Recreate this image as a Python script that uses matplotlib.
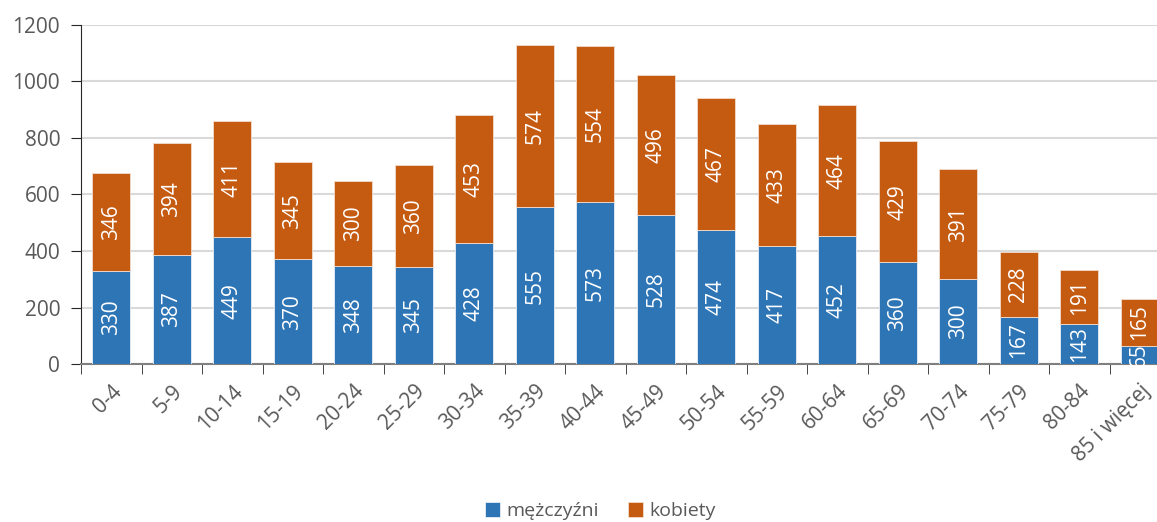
import matplotlib.pyplot as plt
import numpy as np

plt.rcParams['font.family'] = ['Open Sans', 'DejaVu Sans']

groups = ['0-4', '5-9', '10-14', '15-19', '20-24', '25-29', '30-34', '35-39', '40-44',
          '45-49', '50-54', '55-59', '60-64', '65-69', '70-74', '75-79', '80-84', '85 i więcej']
men = [330, 387, 449, 370, 348, 345, 428, 555, 573, 528, 474, 417, 452, 360, 300, 167, 143, 65]
women = [346, 394, 411, 345, 300, 360, 453, 574, 554, 496, 467, 433, 464, 429, 391, 228, 191, 165]

blue = '#2E75B6'
orange = '#C55A11'

fig = plt.figure(figsize=(11.57, 5.22), dpi=100)
ax = fig.add_axes([81 / 1157, 158 / 522, 1089 / 1157, 339 / 522])

x = np.arange(len(groups))
w = 0.63
b1 = ax.bar(x, men, w, color=blue, edgecolor='#e8eef6', linewidth=0.6, label='mężczyźni', zorder=3)
b2 = ax.bar(x, women, w, bottom=men, color=orange, edgecolor='#f2dccd', linewidth=0.6,
            label='kobiety', zorder=3)

for i in range(len(groups)):
    ax.text(x[i], men[i] / 2, str(men[i]), rotation=90, ha='center', va='center',
            color='white', fontsize=15, zorder=4)
    ax.text(x[i], men[i] + women[i] / 2, str(women[i]), rotation=90, ha='center',
            va='center', color='white', fontsize=15, zorder=4)

ax.set_xlim(-0.5, len(groups) - 0.5)
ax.set_ylim(0, 1200)
ax.set_yticks(range(0, 1201, 200))
ax.grid(axis='y', color='#d9d9d9', linewidth=1.5, zorder=0)

ax.set_xticks(x)
ax.set_xticklabels(groups, rotation=45, ha='right', rotation_mode='anchor')
ax.set_xticks(np.arange(-0.5, len(groups), 1), minor=True)
ax.tick_params(axis='x', which='major', length=0, labelsize=15, labelcolor='#595959', pad=12)
ax.tick_params(axis='x', which='minor', length=7, color='#262626', direction='out')
ax.tick_params(axis='y', length=7, color='#262626', labelsize=15, labelcolor='#595959', pad=8)

for s in ['top', 'right']:
    ax.spines[s].set_visible(False)
ax.spines['left'].set_color('#262626')
ax.spines['bottom'].set_color('#7f7f7f')
ax.spines['bottom'].set_linewidth(1.5)

fig.legend(handles=[b1, b2], loc='center', bbox_to_anchor=(600 / 1157, 1 - 511 / 522),
           ncol=2, frameon=False, fontsize=14, handlelength=0.8, handleheight=0.8,
           handletextpad=0.3, columnspacing=1.5, labelcolor='#595959')

fig.savefig('out.png', dpi=100)
